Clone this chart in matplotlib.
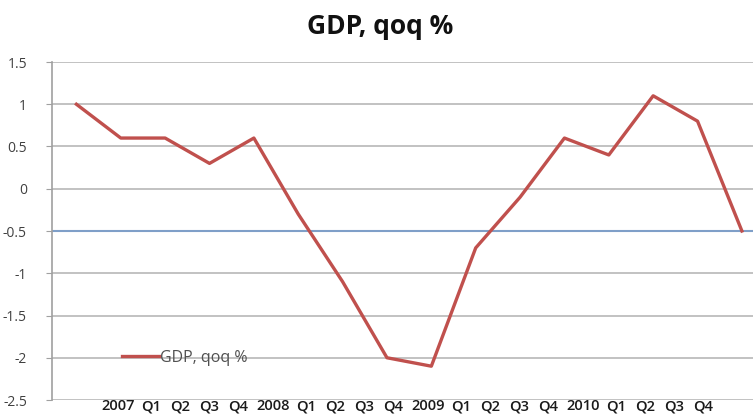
import matplotlib.pyplot as plt

# === Data ===
quarters = ['2007Q1', '2007Q2', '2007Q3', '2007Q4',
            '2008Q1', '2008Q2', '2008Q3', '2008Q4',
            '2009Q1', '2009Q2', '2009Q3', '2009Q4',
            '2010Q1', '2010Q2', '2010Q3', '2010Q4']
gdp_qoq = [1.0, 0.6, 0.6, 0.3, 0.6, -0.3, -1.1, -2.0,
           -2.1, -0.7, -0.1, 0.6, 0.4, 1.1, 0.8, -0.5]
ref_level = -0.5
y_ticks = [1.5, 1, 0.5, 0, -0.5, -1, -1.5, -2, -2.5]
x_tokens = ['2007', 'Q1', 'Q2', 'Q3', 'Q4', '2008', 'Q1', 'Q2', 'Q3', 'Q4',
            '2009', 'Q1', 'Q2', 'Q3', 'Q4', '2010', 'Q1', 'Q2', 'Q3', 'Q4']

# layout: pixel centers of the category tokens (as laid out in the original)
token_px = [118, 151, 180, 209, 238, 273, 306, 335, 364, 393,
            428, 461, 490, 519, 548, 583, 616, 645, 674, 703]

plt.rcParams['font.family'] = ['Open Sans', 'DejaVu Sans']

W, H = 753, 415
fig = plt.figure(figsize=(W / 100, H / 100), dpi=100)
left, right, top, bottom = 52, 753, 62, 400
ax = fig.add_axes([left / W, 1 - bottom / H, (right - left) / W, (bottom - top) / H])

x = list(range(len(gdp_qoq)))
ax.set_xlim(-0.55, 15.25)
ax.set_ylim(-2.5, 1.5)
ax.set_yticks(y_ticks)
ax.set_yticklabels([f'{v:g}' for v in y_ticks], fontsize=10, color='#404040')
ax.grid(axis='y', color='#b8b8b8', linewidth=1.2)
ax.set_axisbelow(True)
ax.set_xticks([])
ax.tick_params(axis='y', length=4, color='#a0a0a0', pad=14)

for s in ['top', 'right', 'bottom']:
    ax.spines[s].set_visible(False)
ax.spines['left'].set_color('#a0a0a0')
ax.spines['left'].set_linewidth(1.2)

ax.axhline(ref_level, color='#7f9fc8', linewidth=1.5, zorder=2)
ax.plot(x, gdp_qoq, color='#c0504d', linewidth=2.4, label='GDP, qoq %', zorder=3)

leg = ax.legend(loc='center left', bbox_to_anchor=((116 - left) / (right - left), (bottom - 358) / (bottom - top)),
                frameon=False, handlelength=2.3, handletextpad=0.05, borderaxespad=0,
                fontsize=11.5)
for t in leg.get_texts():
    t.set_color('#505050')

for tok, px in zip(x_tokens, token_px):
    fig.text(px / W, 1 - 406 / H, tok, ha='center', va='center',
             fontsize=10.5, fontweight='semibold', color='#1a1a1a')

fig.text(380 / W, 1 - 27 / H, 'GDP, qoq %', ha='center', va='center',
         fontsize=19, fontweight='bold', color='#111111')

fig.savefig('out.png', dpi=100)
